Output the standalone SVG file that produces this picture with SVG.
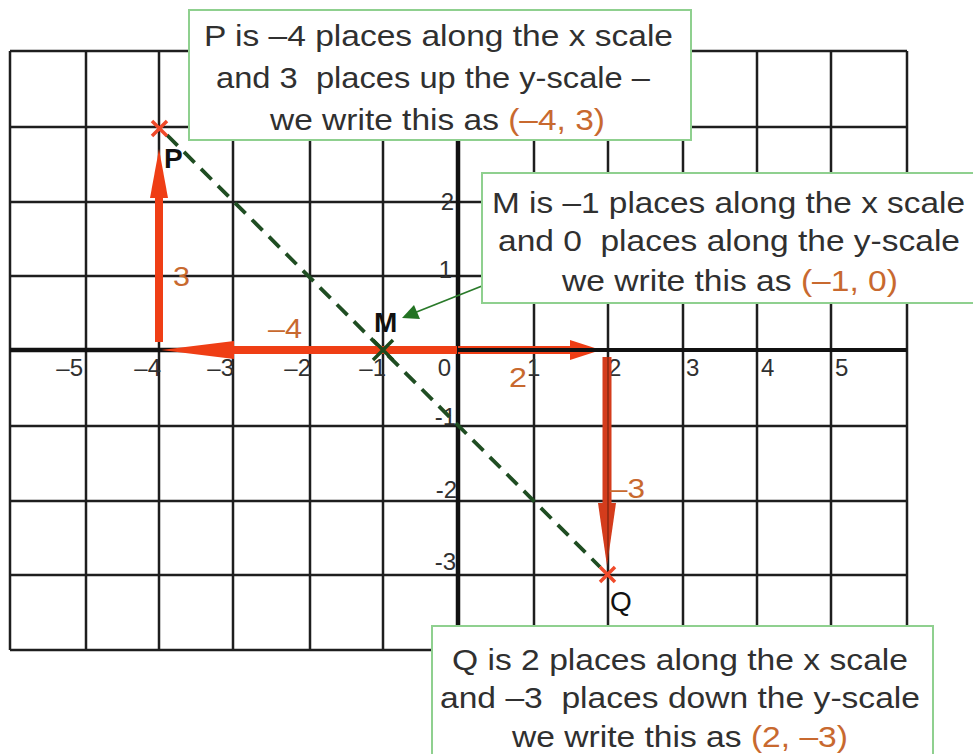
<svg xmlns="http://www.w3.org/2000/svg" width="973" height="754" viewBox="0 0 973 754">
<style>
.grid line{stroke:#1e1e1e;stroke-width:2.5}
.axis{stroke:#111;stroke-width:4.5}
.t{font-family:"Liberation Sans",Arial,sans-serif;font-size:29px;fill:#303030;white-space:pre}
.tick{font-family:"Liberation Sans",Arial,sans-serif;font-size:24px;fill:#303030}
.or{fill:#c8692f}
.olab{font-family:"Liberation Sans",Arial,sans-serif;font-size:28px;fill:#c8692f}
.lab{font-family:"Liberation Sans",Arial,sans-serif;font-size:28px;fill:#111}
.box{fill:#fff;stroke:#8fd08f;stroke-width:2}
.red{stroke:#ef3e15;stroke-width:8;fill:none}
.redf{fill:#ef3e15}
.cross{stroke-width:3.5;fill:none}
</style>
<rect width="973" height="754" fill="#fff"/>
<g id="grid" class="grid">
<line x1="10" y1="51" x2="10" y2="650"/>
<line x1="86" y1="51" x2="86" y2="650"/>
<line x1="159" y1="51" x2="159" y2="650"/>
<line x1="233" y1="51" x2="233" y2="650"/>
<line x1="310" y1="51" x2="310" y2="650"/>
<line x1="383" y1="51" x2="383" y2="650"/>
<line x1="534" y1="51" x2="534" y2="650"/>
<line x1="608" y1="51" x2="608" y2="650"/>
<line x1="683" y1="51" x2="683" y2="650"/>
<line x1="757" y1="51" x2="757" y2="650"/>
<line x1="831" y1="51" x2="831" y2="650"/>
<line x1="907" y1="51" x2="907" y2="650"/>
<line x1="10" y1="51" x2="907" y2="51"/>
<line x1="10" y1="127" x2="907" y2="127"/>
<line x1="10" y1="202" x2="907" y2="202"/>
<line x1="10" y1="276" x2="907" y2="276"/>
<line x1="10" y1="426" x2="907" y2="426"/>
<line x1="10" y1="501" x2="907" y2="501"/>
<line x1="10" y1="575" x2="907" y2="575"/>
<line x1="10" y1="650" x2="907" y2="650"/>
</g>
<g id="axes">
<line class="axis" x1="10" y1="350" x2="460" y2="350"/>
<line class="axis" x1="458" y1="51" x2="458" y2="650"/>
</g>
<g id="ticks" class="tick">
<text x="83" y="376" text-anchor="end">–5</text>
<text x="161" y="376" text-anchor="end">–4</text>
<text x="234" y="376" text-anchor="end">–3</text>
<text x="311" y="376" text-anchor="end">–2</text>
<text x="386" y="376" text-anchor="end">–1</text>
<text x="451" y="376" text-anchor="end">0</text>
<text x="527" y="376">1</text>
<text x="608" y="376">2</text>
<text x="686" y="376">3</text>
<text x="761" y="376">4</text>
<text x="835" y="376">5</text>
<text x="454" y="210" text-anchor="end">2</text>
<text x="452" y="278" text-anchor="end">1</text>
<text x="456" y="425" text-anchor="end">-1</text>
<text x="457" y="498" text-anchor="end">-2</text>
<text x="456" y="570" text-anchor="end">-3</text>
</g>
<g id="connectors">
<line x1="167" y1="135" x2="600" y2="567" stroke="#1f4d22" stroke-width="3.8" stroke-dasharray="15 9"/>
<g id="arrow-up">
<line class="red" x1="159" y1="342" x2="159" y2="195"/>
<polygon class="redf" points="150,198 168,198 159,149"/>
</g>
<g id="arrow-left">
<line class="red" x1="231" y1="350" x2="457" y2="350"/>
<polygon class="redf" points="234,341 234,359 161,350"/>
</g>
<g id="arrow-right">
<line class="red" x1="458" y1="350" x2="574" y2="350" stroke-width="9"/>
<polygon class="redf" points="570,340 570,360 601,350"/>
<line x1="458" y1="350" x2="907" y2="350" stroke="#111" stroke-width="4"/>
</g>
<g id="arrow-down">
<line x1="607" y1="357" x2="607" y2="506" stroke="#d43c1c" stroke-width="9"/>
<polygon fill="#d43c1c" points="598,503 616,503 607,566"/>
<line x1="608" y1="357" x2="608" y2="560" stroke="#5a1a0a" stroke-width="1.5" opacity="0.6"/>
</g>
<g id="arrow-m">
<line x1="482" y1="286" x2="414" y2="313" stroke="#2a7a2a" stroke-width="1.8"/>
<polygon fill="#237323" points="402,318 414,305 420,319"/>
</g>
</g>
<g id="step-labels" class="olab">
<text x="173" y="286" textLength="17" lengthAdjust="spacingAndGlyphs">3</text>
<text x="268" y="338" textLength="34" lengthAdjust="spacingAndGlyphs">–4</text>
<text x="509" y="387" textLength="18" lengthAdjust="spacingAndGlyphs">2</text>
<text x="610" y="498" textLength="35" lengthAdjust="spacingAndGlyphs">–3</text>
</g>
<g id="node-P">
<path class="cross" stroke="#f04a2a" d="M152,121 L167,136 M167,121 L152,136"/>
<text class="lab" x="164" y="168" font-weight="bold">P</text>
</g>
<g id="node-M">
<path class="cross" stroke="#1c4a1c" stroke-width="4.5" d="M373,340 L393,360 M393,340 L373,360"/>
<text class="lab" x="374" y="332" font-weight="bold">M</text>
</g>
<g id="node-Q">
<path class="cross" stroke="#f04a2a" d="M600,567 L615,582 M615,567 L600,582"/>
<text class="lab" x="610" y="611">Q</text>
</g>
<g id="box-P">
<rect class="box" x="189" y="10" width="502" height="130"/>
<text class="t" x="204" y="46" textLength="469" lengthAdjust="spacingAndGlyphs">P is –4 places along the x scale</text>
<text class="t" x="216" y="88" textLength="434" lengthAdjust="spacingAndGlyphs">and 3  places up the y-scale –</text>
<text class="t" x="270" y="130" textLength="335" lengthAdjust="spacingAndGlyphs">we write this as <tspan class="or">(–4, 3)</tspan></text>
</g>
<g id="box-M">
<rect class="box" x="482" y="173" width="500" height="130"/>
<text class="t" x="492" y="213" textLength="473" lengthAdjust="spacingAndGlyphs">M is –1 places along the x scale</text>
<text class="t" x="498" y="251" textLength="462" lengthAdjust="spacingAndGlyphs">and 0  places along the y-scale</text>
<text class="t" x="562" y="291" textLength="336" lengthAdjust="spacingAndGlyphs">we write this as <tspan class="or">(–1, 0)</tspan></text>
</g>
<g id="box-Q">
<rect class="box" x="432" y="626" width="501" height="140"/>
<text class="t" x="452" y="670" textLength="456" lengthAdjust="spacingAndGlyphs">Q is 2 places along the x scale</text>
<text class="t" x="440" y="708" textLength="480" lengthAdjust="spacingAndGlyphs">and –3  places down the y-scale</text>
<text class="t" x="512" y="747" textLength="336" lengthAdjust="spacingAndGlyphs">we write this as <tspan class="or">(2, –3)</tspan></text>
</g>
</svg>
